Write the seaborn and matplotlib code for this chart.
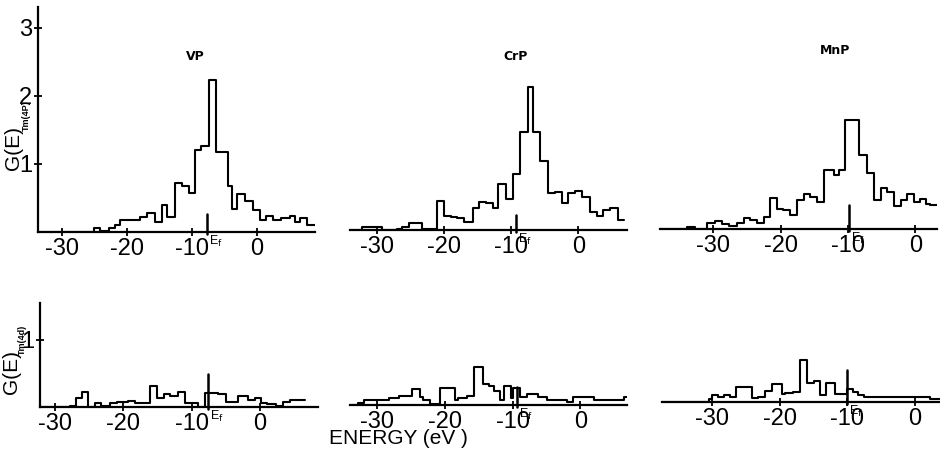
import numpy as np
import pandas as pd
import matplotlib
matplotlib.use("Agg")
import matplotlib.pyplot as plt
import seaborn as sns

sns.set_style("white")
plt.rcParams["font.family"] = ["Liberation Sans", "DejaVu Sans"]
plt.rcParams["axes.unicode_minus"] = False
for key in ("text.color", "axes.labelcolor", "xtick.color", "ytick.color",
            "axes.edgecolor"):
    plt.rcParams[key] = "black"

compounds = ["VP", "CrP", "MnP"]
energy_ticks = [-30, -20, -10, 0]
energy_tick_labels = ["-30", "-20", "-10", "0"]

# ---- Tm(4p) partial density of states (upper row): bin edges (eV) and heights ----
vp_4p_edges = [-33.7, -25.1, -24.1, -22.8, -21.8, -21.0, -17.9, -16.9, -15.6, -14.6,
               -13.8, -12.6, -11.5, -10.5, -9.5, -8.5, -7.4, -6.2, -4.4, -3.8,
               -3.0, -1.8, -0.5, 0.5, 1.5, 2.6, 3.8, 5.1, 5.9, 6.7, 7.7, 9.0]
vp_4p_heights = [0.0, 0.06, 0.02, 0.06, 0.11, 0.17, 0.22, 0.28, 0.15, 0.39,
                 0.22, 0.72, 0.68, 0.57, 1.21, 1.26, 2.23, 1.17, 0.68, 0.34,
                 0.56, 0.46, 0.32, 0.17, 0.23, 0.17, 0.20, 0.24, 0.15, 0.20, 0.10]

crp_4p_edges = [-34.0, -32.25, -29.25, -27.0, -26.25, -25.25, -23.25, -21.75, -21.0,
                -20.0, -19.0, -18.0, -17.0, -15.75, -14.75, -13.75, -12.75, -11.9,
                -10.75, -9.75, -8.75, -7.5, -6.75, -5.75, -4.5, -3.5, -2.5, -1.5,
                -0.5, 0.5, 1.75, 2.75, 3.75, 4.75, 5.9, 6.85]
crp_4p_heights = [0.0, 0.04, 0.0, 0.01, 0.05, 0.10, 0.02, 0.01, 0.42,
                  0.20, 0.19, 0.17, 0.12, 0.33, 0.41, 0.39, 0.33, 0.68,
                  0.46, 0.83, 1.44, 2.10, 1.44, 1.01, 0.55, 0.56, 0.40, 0.55,
                  0.58, 0.49, 0.26, 0.20, 0.29, 0.32, 0.15]

mnp_4p_edges = [-37.9, -33.9, -32.7, -30.9, -29.7, -28.7, -27.7, -26.5, -25.5, -24.5,
                -23.5, -22.5, -21.6, -20.5, -19.6, -18.6, -17.6, -16.6, -15.6, -14.6,
                -13.6, -12.1, -11.4, -10.4, -8.4, -7.2, -6.1, -5.1, -4.2, -3.2,
                -2.2, -1.2, -0.2, 0.7, 1.6, 2.2, 3.2]
mnp_4p_heights = [0.0, 0.03, 0.0, 0.09, 0.12, 0.07, 0.04, 0.09, 0.16, 0.13,
                  0.09, 0.18, 0.45, 0.30, 0.28, 0.21, 0.43, 0.52, 0.47, 0.40,
                  0.87, 0.79, 0.87, 1.61, 1.09, 0.82, 0.42, 0.61, 0.54, 0.34,
                  0.42, 0.52, 0.40, 0.44, 0.37, 0.36]

# ---- Tm(4d) partial density of states (lower row) ----
vp_4d_edges = [-32.2, -27.8, -26.9, -26.1, -25.1, -24.2, -23.2, -22.0, -21.0, -19.3,
               -18.3, -16.1, -15.1, -14.1, -13.2, -12.0, -11.0, -9.0, -8.0, -6.1,
               -4.9, -3.2, -1.7, -0.7, 0.2, 1.0, 2.4, 3.4, 4.4, 6.6]
vp_4d_heights = [0.0, 0.01, 0.14, 0.22, 0.0, 0.06, 0.02, 0.06, 0.07, 0.09,
                 0.06, 0.31, 0.14, 0.19, 0.16, 0.22, 0.06, 0.0, 0.21, 0.20,
                 0.08, 0.17, 0.11, 0.14, 0.06, 0.04, 0.01, 0.07, 0.10]

crp_4d_edges = [-34.0, -32.8, -32.0, -30.5, -28.3, -26.8, -24.9, -23.6, -23.2, -22.2,
                -20.7, -18.5, -18.0, -16.7, -15.7, -14.4, -13.5, -12.8, -11.8, -11.3,
                -10.3, -9.9, -8.9, -7.9, -6.2, -4.9, -2.0, -1.0, 2.0, 6.4, 6.9]
crp_4d_heights = [0.0, 0.03, 0.08, 0.07, 0.10, 0.13, 0.24, 0.12, 0.08, 0.01,
                  0.26, 0.07, 0.11, 0.13, 0.57, 0.32, 0.28, 0.21, 0.07, 0.29,
                  0.10, 0.26, 0.12, 0.16, 0.12, 0.07, 0.05, 0.12, 0.07, 0.12]

mnp_4d_edges = [-37.4, -30.5, -30.0, -29.1, -28.3, -27.3, -26.4, -24.1, -23.2, -22.2,
                -21.2, -19.7, -19.2, -18.0, -17.0, -16.0, -15.0, -14.0, -13.1, -11.8,
                -10.1, -9.1, -8.4, -7.6, 2.2, 3.7]
mnp_4d_heights = [0.0, 0.05, 0.11, 0.08, 0.11, 0.08, 0.22, 0.06, 0.08, 0.16,
                  0.27, 0.12, 0.13, 0.15, 0.63, 0.28, 0.32, 0.10, 0.28, 0.12,
                  0.20, 0.15, 0.10, 0.07, 0.05]

# Fermi energies (eV) for each compound, upper and lower rows
fermi_4p = [-7.7, -9.25, -9.9]
fermi_4d = [-7.6, -9.4, -10.0]

W, H = 940, 450
fig = plt.figure(figsize=(W / 100, H / 100), dpi=100)


def add_panel(left, right, base, top, show_y):
    ax = fig.add_axes([left / W, 1 - base / H, (right - left) / W, (base - top) / H])
    ax.patch.set_alpha(0)
    for side in ("top", "right"):
        ax.spines[side].set_visible(False)
    ax.spines["bottom"].set_linewidth(1.6)
    ax.spines["left"].set_linewidth(1.6)
    ax.spines["left"].set_visible(show_y)
    ax.tick_params(axis="x", direction="inout", length=6, width=1.3, pad=1,
                   labelsize=17, bottom=True)
    ax.tick_params(axis="y", direction="inout", length=6, width=1.3, pad=1,
                   labelsize=17, left=show_y)
    return ax


def draw_dos(ax, edges, heights, ef, ef_height):
    edges = [float(v) for v in edges]
    centers = [(a + b) / 2 for a, b in zip(edges[:-1], edges[1:])]
    df = pd.DataFrame({"energy": centers, "dos": list(heights)})
    sns.histplot(data=df, x="energy", weights="dos", bins=edges, element="step",
                 fill=False, color="black", linewidth=1.5, ax=ax)
    ax.plot([ef, ef], [-0.03, ef_height], color="black", lw=1.8, clip_on=False)
    ax.text(ef + 0.3, -0.03, r"E$_\mathrm{f}$", ha="left", va="top", fontsize=9)
    ax.set_xlabel("")
    ax.set_ylabel("")
    ax.set_xticks(energy_ticks)
    ax.set_xticklabels(energy_tick_labels)


def side_label(px, py, sub, sub_px, sub_py):
    fig.text(px / W, 1 - py / H, "G(E)", rotation=90, ha="center", va="center",
             fontsize=15)
    fig.text(sub_px / W, 1 - sub_py / H, sub, rotation=90, ha="center",
             va="center", fontsize=6.5, fontweight="bold")


top_specs = [
    (38, 315, 232, 7, (-33.7, 9.0), True),
    (350, 627, 230, 7, (-34.0, 7.25), False),
    (660, 937, 229, 7, (-37.9, 3.2), False),
]
bottom_specs = [
    (40, 318, 407, 303, (-32.2, 8.5), True),
    (350, 627, 405, 303, (-34.0, 6.9), False),
    (662, 940, 402, 303, (-37.4, 3.7), False),
]
top_data = [(vp_4p_edges, vp_4p_heights), (crp_4p_edges, crp_4p_heights),
            (mnp_4p_edges, mnp_4p_heights)]
bottom_data = [(vp_4d_edges, vp_4d_heights), (crp_4d_edges, crp_4d_heights),
               (mnp_4d_edges, mnp_4d_heights)]
ef_marks_top = [0.27, 0.22, 0.36]
ef_marks_bottom = [0.5, 0.27, 0.48]

for i, (spec, (e, h)) in enumerate(zip(top_specs, top_data)):
    l, r, b, t, xl, show_y = spec
    ax = add_panel(l, r, b, t, show_y)
    draw_dos(ax, e, h, fermi_4p[i], ef_marks_top[i])
    ax.set_xlim(*xl)
    ax.set_ylim(0, (b - t) / 68.0)
    if show_y:
        ax.set_yticks([1, 2, 3])
    else:
        ax.set_yticks([])

for i, (spec, (e, h)) in enumerate(zip(bottom_specs, bottom_data)):
    l, r, b, t, xl, show_y = spec
    ax = add_panel(l, r, b, t, show_y)
    draw_dos(ax, e, h, fermi_4d[i], ef_marks_bottom[i])
    ax.set_xlim(*xl)
    ax.set_ylim(0, (b - t) / 67.0)
    if show_y:
        ax.set_yticks([1])
    else:
        ax.set_yticks([])

side_label(13, 148, "Tm(4P)", 26, 116)
side_label(12, 372, "Tm(4d)", 22, 340)
fig.text(398 / W, 1 - 438 / H, "ENERGY (eV )", ha="center", va="center",
         fontsize=15)

# compound names above the upper row
title_pos = [(195, 57), (516, 57), (835, 50)]
for name, (px, py) in zip(compounds, title_pos):
    fig.text(px / W, 1 - py / H, name, ha="center", va="center", fontsize=9,
             fontweight="bold", family=["DejaVu Sans"])

fig.savefig("out.png", dpi=100)
